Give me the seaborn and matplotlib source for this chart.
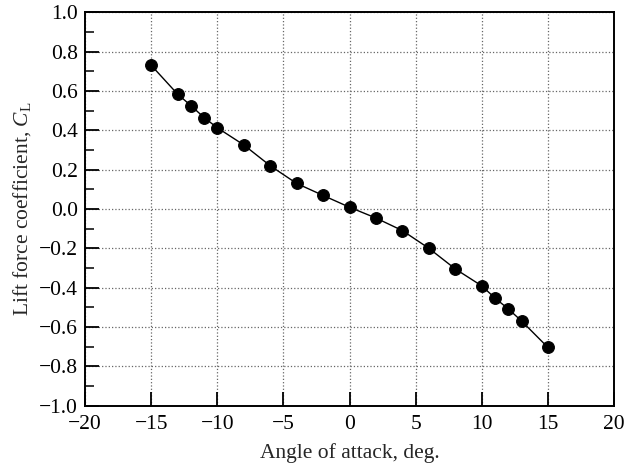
import matplotlib
matplotlib.use("Agg")
import matplotlib.pyplot as plt
import seaborn as sns
import pandas as pd
import numpy as np

angle = [-15, -13, -12, -11, -10, -8, -6, -4, -2, 0, 2, 4, 6, 8, 10, 11, 12, 13, 15]
cl = [0.731, 0.584, 0.526, 0.465, 0.413, 0.326, 0.220, 0.130, 0.069, 0.009,
      -0.046, -0.110, -0.200, -0.305, -0.391, -0.453, -0.508, -0.569, -0.704]
x_ticks = [-20, -15, -10, -5, 0, 5, 10, 15, 20]
y_ticks = [-1.0, -0.8, -0.6, -0.4, -0.2, 0.0, 0.2, 0.4, 0.6, 0.8, 1.0]

sns.set_style("ticks")
plt.rcParams['font.family'] = ['Liberation Serif', 'DejaVu Serif']
plt.rcParams['mathtext.fontset'] = 'custom'
plt.rcParams['mathtext.rm'] = 'Liberation Serif'
plt.rcParams['mathtext.it'] = 'Liberation Serif:italic'

df = pd.DataFrame({"angle": angle, "cl": cl})

fig = plt.figure(figsize=(6.26, 4.68), dpi=100)
ax = fig.add_axes([0.1358, 0.1331, 0.981 - 0.1358, 0.9737 - 0.1331])

sns.lineplot(data=df, x="angle", y="cl", ax=ax, color="black", linewidth=1.0,
             marker="o", markersize=8.5, markeredgecolor="black",
             markerfacecolor="black", sort=False)

ax.set_xlim(-20, 20)
ax.set_ylim(-1.0, 1.0)
ax.set_xticks(x_ticks)
ax.set_yticks(y_ticks)
ax.set_yticks(np.arange(-0.9, 1.0, 0.2), minor=True)
ax.set_yticklabels([f"{v:.1f}".replace("-", "\u2212") for v in y_ticks])
ax.set_xticklabels([str(v).replace("-", "\u2212") for v in x_ticks])

ax.grid(True, which="major", linestyle=":", color="0.4", linewidth=0.9)
ax.set_axisbelow(True)

for s in ax.spines.values():
    s.set_linewidth(1.4)
    s.set_color("black")

ax.tick_params(axis="both", which="major", direction="in", length=10, width=1.3,
               labelsize=15.5, colors="black", pad=5)
ax.tick_params(axis="x", which="major", pad=7)
ax.tick_params(axis="y", which="minor", direction="in", length=6.5, width=1.3)
ax.tick_params(top=False, right=False)

ax.set_xlabel("Angle of attack, deg.", fontsize=15.5, labelpad=6)
ax.set_ylabel(r"Lift force coefficient, $C_{\mathrm{L}}$", fontsize=15.5, labelpad=4)

fig.savefig("out.png", dpi=100)
